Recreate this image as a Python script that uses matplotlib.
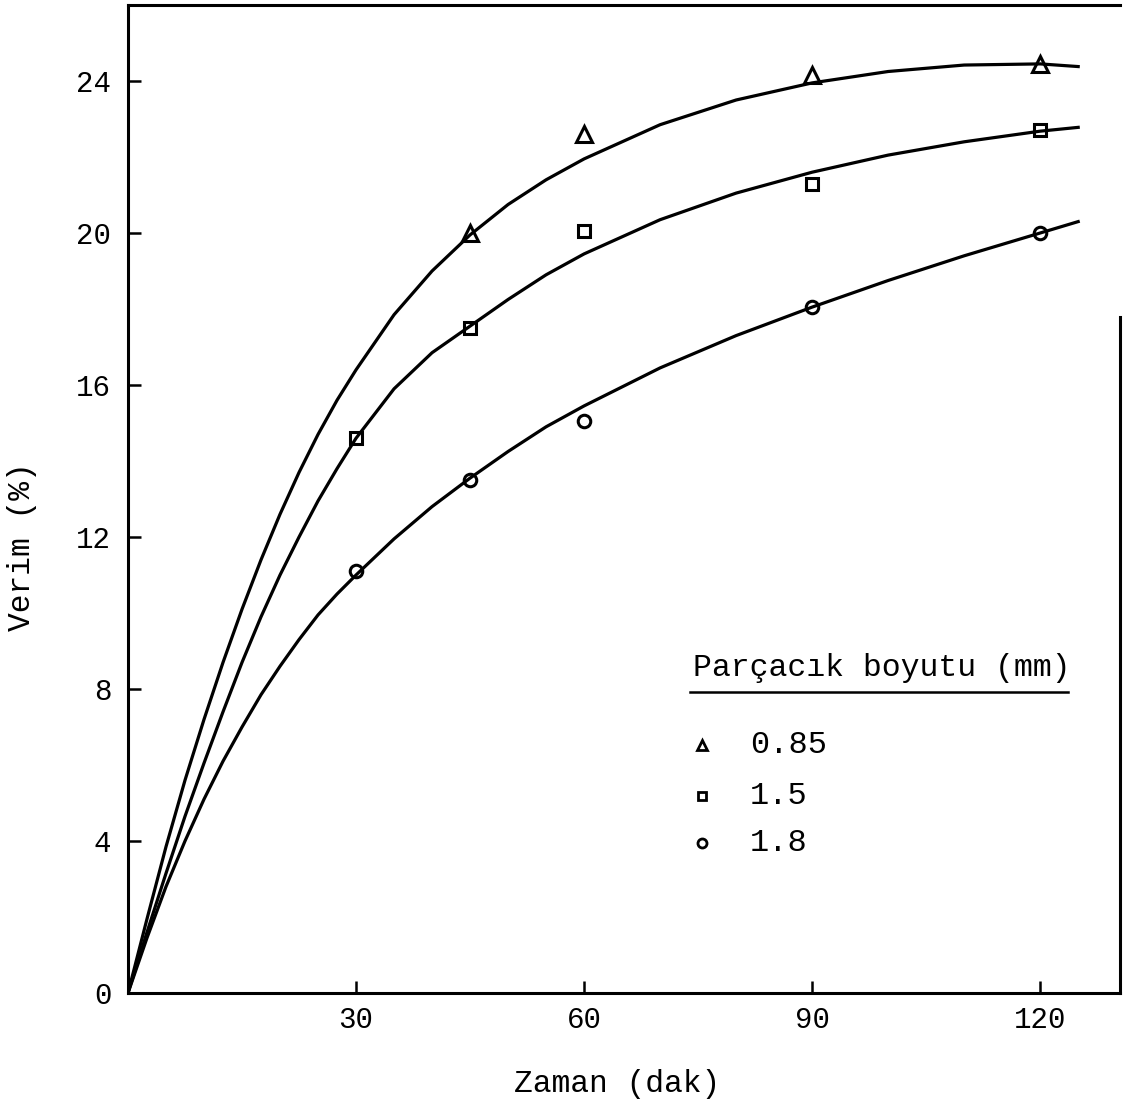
import matplotlib.pyplot as plt

plt.rcParams['font.family'] = ['Liberation Mono', 'DejaVu Sans Mono']

# measured points (zaman in dak, verim in %)
t_085 = [45, 60, 90, 120]
y_085 = [20.0, 22.6, 24.15, 24.45]
t_15 = [30, 45, 60, 90, 120]
y_15 = [14.6, 17.5, 20.05, 21.3, 22.7]
t_18 = [30, 45, 60, 90, 120]
y_18 = [11.1, 13.5, 15.05, 18.05, 20.0]

# hand drawn curves
ct_085 = [0, 2.5, 5, 7.5, 10, 12.5, 15, 17.5, 20, 22.5, 25, 27.5, 30, 35, 40, 45, 50, 55, 60, 70, 80, 90, 100, 110, 120, 125]
cy_085 = [0, 1.95, 3.85, 5.6, 7.2, 8.7, 10.1, 11.4, 12.6, 13.7, 14.7, 15.6, 16.4, 17.85, 19.0, 19.95, 20.75, 21.4, 21.95, 22.85, 23.5, 23.95, 24.25, 24.42, 24.45, 24.38]
ct_15 = [0, 2.5, 5, 7.5, 10, 12.5, 15, 17.5, 20, 22.5, 25, 27.5, 30, 35, 40, 45, 50, 55, 60, 70, 80, 90, 100, 110, 120, 125]
cy_15 = [0, 1.6, 3.15, 4.65, 6.05, 7.4, 8.7, 9.9, 11.0, 12.0, 12.95, 13.8, 14.6, 15.9, 16.85, 17.55, 18.25, 18.9, 19.45, 20.35, 21.05, 21.6, 22.05, 22.4, 22.68, 22.78]
ct_18 = [0, 2.5, 5, 7.5, 10, 12.5, 15, 17.5, 20, 22.5, 25, 27.5, 30, 35, 40, 45, 50, 55, 60, 70, 80, 90, 100, 110, 120, 125]
cy_18 = [0, 1.45, 2.8, 4.0, 5.1, 6.1, 7.0, 7.85, 8.6, 9.3, 9.95, 10.5, 11.0, 11.95, 12.8, 13.55, 14.25, 14.9, 15.45, 16.45, 17.3, 18.05, 18.75, 19.4, 20.0, 20.3]

sizes = ['0.85', '1.5', '1.8']

fig = plt.figure(figsize=(11.23, 11.03), dpi=100)
ax = fig.add_axes([128 / 1123, 110 / 1103, 992 / 1123, 988 / 1103])

for xs, ys in [(ct_085, cy_085), (ct_15, cy_15), (ct_18, cy_18)]:
	ax.plot(xs, ys, c='black', lw=2.3, solid_joinstyle='round')

ax.plot(t_085, y_085, ls='none', marker='^', ms=11, mfc='none', mec='black', mew=2.2)
ax.plot(t_15, y_15, ls='none', marker='s', ms=8, mfc='none', mec='black', mew=2.2)
ax.plot(t_18, y_18, ls='none', marker='o', ms=9, mfc='none', mec='black', mew=2.2)

ax.set_xlim(0, 130.5)
ax.set_ylim(0, 26)
ax.set_xticks([30, 60, 90, 120])
ax.set_yticks([0, 4, 8, 12, 16, 20, 24])
ax.tick_params(direction='in', length=9, width=1.8, labelsize=21, color='black')
ax.tick_params(axis='x', pad=9)
ax.tick_params(axis='y', pad=12)
for s in ax.spines.values():
	s.set_linewidth(2.2)
ax.spines['right'].set_bounds(0, 17.8)

ax.set_xlabel("Zaman (dak)", fontsize=22.5)
ax.set_ylabel("Verim (%)", fontsize=22.5)
ax.xaxis.set_label_coords(0.493, -0.077)
ax.yaxis.set_label_coords(-0.092, 0.452)

# legend drawn by hand, title underlined
ax.text(0.570, 0.329, "Parçacık boyutu (mm)", transform=ax.transAxes, fontsize=22.7, va='center')
ax.plot([0.5665, 0.9476], [0.3047, 0.3047], transform=ax.transAxes, c='black', lw=1.8)
for m, ms, yy, lab in zip(['^', 's', 'o'], [7.5, 6, 6.5], [0.251, 0.1994, 0.1518], sizes):
	ax.plot([0.5786], [yy], transform=ax.transAxes, marker=m, ms=ms, mfc='none', mec='black', mew=2)
	ax.text(0.627, yy, lab, transform=ax.transAxes, fontsize=23, va='center')

fig.savefig("out.png", dpi=100)
